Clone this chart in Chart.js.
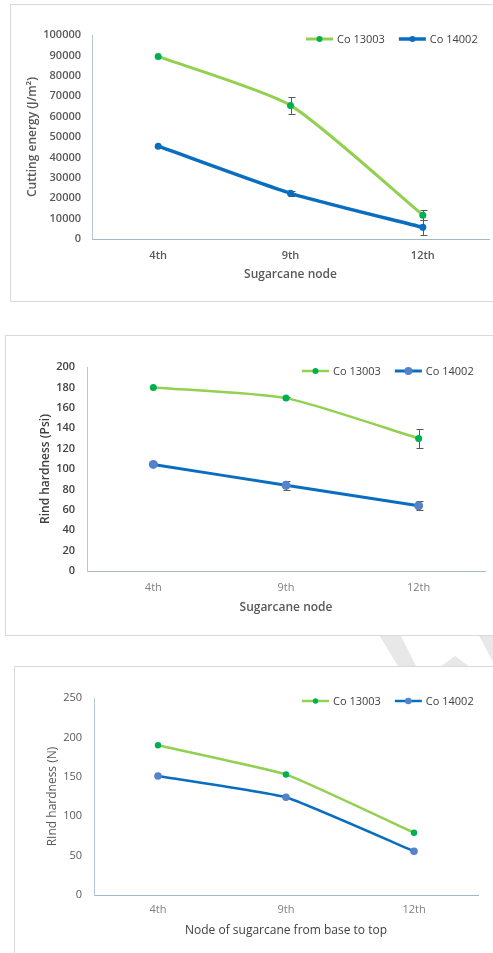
<!DOCTYPE html>
<html>
<head>
<meta charset="utf-8">
<script src="https://cdn.jsdelivr.net/npm/chart.js@4.4.1/dist/chart.umd.min.js"></script>
<style>
  html, body { margin: 0; padding: 0; background: #fff; }
  body { position: relative; width: 493px; height: 953px; overflow: hidden; }
  .box { position: absolute; border: 1px solid #d9d9d9; box-sizing: border-box; background: #fff; }
  canvas { position: absolute; }
  svg { position: absolute; left: 0; top: 0; }
</style>
</head>
<body>
<!-- faint watermark peeking between the boxes -->
<svg width="493" height="953">
  <polygon points="376,630 398,630 416,666 398,666" fill="#e8e8e8"/>
  <polygon points="455,656 440,667 470,667" fill="#e8e8e8"/>
  <polygon points="476,630 493,630 493,662" fill="#e8e8e8"/>
</svg>
<div class="box" style="left:10px;top:4px;width:500px;height:298px;"></div>
<div class="box" style="left:5px;top:335px;width:500px;height:301px;"></div>
<div class="box" style="left:14px;top:666px;width:500px;height:400px;"></div>
<canvas id="energyChart" width="483" height="297" style="left:10px;top:4px;"></canvas>
<canvas id="psiChart" width="487" height="299" style="left:6px;top:336px;"></canvas>
<canvas id="newtonChart" width="479" height="287" style="left:14px;top:666px;"></canvas>
<script>
// data
var nodeLabels = ["4th", "9th", "12th"];

var energy13003 = [89500, 65500, 11700];
var energy13003Err = [0, 4200, 2500];
var energy14002 = [45500, 22400, 5700];
var energy14002Err = [0, 1100, 3700];
var energyTicks = [0, 100000, 10000];

var psi13003 = [180, 169.5, 130];
var psi13003Err = [0, 1.2, 9.5];
var psi14002 = [104.5, 84, 64];
var psi14002Err = [1, 4.5, 4.5];
var psiTicks = [0, 200, 20];

var newton13003 = [190, 153, 79];
var newton14002 = [151, 124, 55.5];
var newtonTicks = [0, 250, 50];

Chart.defaults.font.family = "'Open Sans', sans-serif";

// error bars drawn from the y scale
var errorBars = {
  id: "errorBars",
  beforeDatasetsDraw: function (chart) {
    var ctx = chart.ctx;
    var y = chart.scales.y;
    ctx.save();
    ctx.strokeStyle = "#595959";
    ctx.lineWidth = 1;
    chart.data.datasets.forEach(function (ds, i) {
      if (!ds.errors) return;
      chart.getDatasetMeta(i).data.forEach(function (pt, j) {
        var e = ds.errors[j];
        if (!e) return;
        var top = Math.round(y.getPixelForValue(ds.data[j] + e)) + 0.5;
        var bot = Math.round(y.getPixelForValue(ds.data[j] - e)) + 0.5;
        var x = Math.round(pt.x) + 0.5;
        ctx.beginPath();
        ctx.moveTo(x, top); ctx.lineTo(x, bot);
        ctx.moveTo(x - 3, top); ctx.lineTo(x + 4, top);
        ctx.moveTo(x - 3, bot); ctx.lineTo(x + 4, bot);
        ctx.stroke();
      });
    });
    ctx.restore();
  }
};

// excel style legend: line with a dot, then the name
var lineLegend = {
  id: "lineLegend",
  afterDraw: function (chart, args, opts) {
    var ctx = chart.ctx;
    var x = opts.x;
    ctx.save();
    ctx.font = "11px 'Open Sans', sans-serif";
    ctx.textBaseline = "middle";
    chart.data.datasets.forEach(function (ds) {
      ctx.strokeStyle = ds.borderColor;
      ctx.lineWidth = ds.borderWidth;
      ctx.beginPath();
      ctx.moveTo(x, opts.y);
      ctx.lineTo(x + 27, opts.y);
      ctx.stroke();
      ctx.fillStyle = ds.pointBackgroundColor;
      ctx.beginPath();
      ctx.arc(x + 13.5, opts.y, ds.pointRadius - 0.5, 0, Math.PI * 2);
      ctx.fill();
      ctx.fillStyle = "#404040";
      ctx.fillText(ds.label, x + 31, opts.y + 0.5);
      x += 31 + ctx.measureText(ds.label).width + 14;
    });
    ctx.restore();
  }
};

function makeChart(id, s) {
  return new Chart(document.getElementById(id).getContext("2d"), {
    type: "line",
    data: {
      labels: nodeLabels,
      datasets: [
        {
          label: "Co 13003",
          data: s.green,
          errors: s.greenErr,
          borderColor: "#92D050",
          borderWidth: s.greenWidth,
          pointBackgroundColor: "#00B050",
          pointBorderWidth: 0,
          pointRadius: s.greenDot,
          tension: s.tension,
        },
        {
          label: "Co 14002",
          data: s.blue,
          errors: s.blueErr,
          borderColor: "#0A6EC0",
          borderWidth: s.blueWidth,
          pointBackgroundColor: s.blueDotColor,
          pointBorderWidth: 0,
          pointRadius: s.blueDot,
          tension: s.tension,
        },
      ],
    },
    options: {
      responsive: false,
      animation: false,
      layout: { padding: { top: s.top, right: s.right, bottom: 0, left: 0 } },
      plugins: {
        legend: { display: false },
        tooltip: { enabled: false },
        lineLegend: { x: s.legendX, y: 35 },
      },
      scales: {
        x: {
          offset: true,
          grid: { display: false, drawTicks: false },
          border: { color: "#A3B7CC", width: 1 },
          ticks: { padding: s.xTickPad, color: s.xTickColor, font: { size: 11, weight: s.xTickWeight } },
          title: {
            display: true,
            text: s.xTitle,
            color: s.xTitleColor,
            font: { size: 12, weight: s.xTitleWeight },
            padding: { top: 0, bottom: s.xTitlePad },
          },
          afterFit: function (scale) { scale.height = s.xHeight; },
        },
        y: {
          min: s.ticks[0],
          max: s.ticks[1],
          grid: { display: false, drawTicks: false },
          border: { color: "#B4C6D8", width: 1 },
          ticks: {
            stepSize: s.ticks[2],
            padding: s.yTickPad,
            color: s.yTickColor,
            font: { size: 11, weight: s.yTickWeight },
            callback: function (v) { return String(v); },
          },
          title: {
            display: true,
            text: s.yTitle,
            color: s.yTitleColor,
            font: { size: 12, weight: s.yTitleWeight },
            padding: { top: s.yTitlePad, bottom: 0 },
          },
          afterFit: function (scale) { scale.width = s.yWidth; },
        },
      },
    },
    plugins: [errorBars, lineLegend],
  });
}

makeChart("energyChart", {
  green: energy13003, greenErr: energy13003Err,
  blue: energy14002, blueErr: energy14002Err,
  ticks: energyTicks,
  greenWidth: 3, blueWidth: 3.5, greenDot: 3.5, blueDot: 3.5,
  blueDotColor: "#0A6EC0", tension: 0.2,
  top: 31, right: 3, yWidth: 82, xHeight: 62,
  yTickPad: 11, xTickPad: 10, yTitlePad: 15, xTitlePad: 19,
  yTickColor: "#595959", yTickWeight: 600, xTickColor: "#595959", xTickWeight: 600,
  yTitle: "Cutting energy (J/m²)", yTitleColor: "#595959", yTitleWeight: 600,
  xTitle: "Sugarcane node", xTitleColor: "#595959", xTitleWeight: 600,
  legendX: 296,
});

makeChart("psiChart", {
  green: psi13003, greenErr: psi13003Err,
  blue: psi14002, blueErr: psi14002Err,
  ticks: psiTicks,
  greenWidth: 2.5, blueWidth: 3, greenDot: 3.5, blueDot: 4.5,
  blueDotColor: "#5582C8", tension: 0.2,
  top: 31, right: 8, yWidth: 81, xHeight: 64,
  yTickPad: 12, xTickPad: 10, yTitlePad: 32, xTitlePad: 20,
  yTickColor: "#404040", yTickWeight: 600, xTickColor: "#7F7F7F", xTickWeight: 400,
  yTitle: "Rind hardness (Psi)", yTitleColor: "#404040", yTitleWeight: 600,
  xTitle: "Sugarcane node", xTitleColor: "#595959", xTitleWeight: 600,
  legendX: 296,
});

makeChart("newtonChart", {
  green: newton13003, greenErr: null,
  blue: newton14002, blueErr: null,
  ticks: newtonTicks,
  greenWidth: 2.5, blueWidth: 2.5, greenDot: 3.2, blueDot: 3.8,
  blueDotColor: "#5582C8", tension: 0.12,
  top: 32, right: 15, yWidth: 80, xHeight: 58,
  yTickPad: 12, xTickPad: 8, yTitlePad: 31, xTitlePad: 15,
  yTickColor: "#595959", yTickWeight: 400, xTickColor: "#7F7F7F", xTickWeight: 400,
  yTitle: "RInd hardness (N)", yTitleColor: "#595959", yTitleWeight: 400,
  xTitle: "Node of sugarcane from base to top", xTitleColor: "#404040", xTitleWeight: 400,
  legendX: 288,
});
</script>
</body>
</html>
